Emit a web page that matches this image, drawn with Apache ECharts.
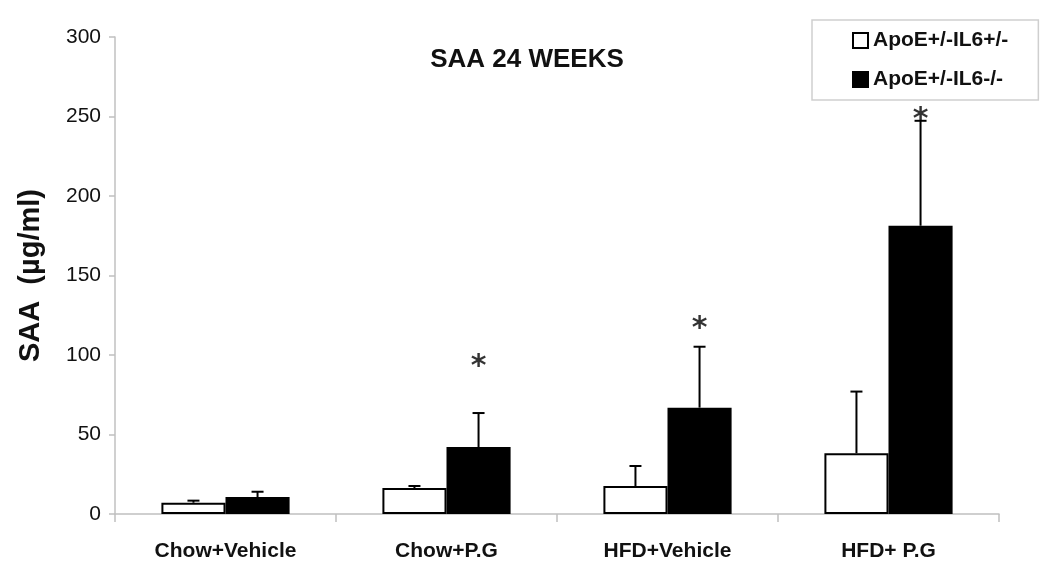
<!DOCTYPE html>
<html><head><meta charset="utf-8">
<script src="https://cdn.jsdelivr.net/npm/echarts@6/dist/echarts.min.js"></script>
<style>html,body{margin:0;padding:0;background:#fff;}#c{width:1050px;height:576px;}</style>
</head><body><div id="c"></div>
<script>
var categories = ['Chow+Vehicle', 'Chow+P.G', 'HFD+Vehicle', 'HFD+ P.G'];
var seriesNames = ['ApoE+/-IL6+/-', 'ApoE+/-IL6-/-'];
var hetValues = [7.1, 16.3, 17.6, 38.2];
var hetErrors = [1.3, 1.3, 12.6, 38.8];
var koValues = [10.7, 42.1, 66.9, 181.3];
var koErrors = [3.3, 21.4, 38.3, 66.0];
var starCategories = [1, 2, 3];
var starValues = [96.9, 120.8, 252];
var yTicks = {min: 0, max: 300, interval: 50};

var chart = echarts.init(document.getElementById('c'));
var BAR_FRAC = 0.29;
function errSeries(vals, errs, side) {
  return {
    type: 'custom',
    silent: true,
    z: 5,
    data: vals.map(function (v, i) { return [i, v, errs[i]]; }),
    encode: {x: 0, y: 1},
    renderItem: function (params, api) {
      var x = api.value(0), v = api.value(1), e = api.value(2);
      var bw = api.size([1, 0])[0];
      var off = side * bw * BAR_FRAC / 2;
      var b = api.coord([x, v]);
      var t = api.coord([x, v + e]);
      var cx = b[0] + off;
      var style = {stroke: '#000', lineWidth: 2};
      return {type: 'group', children: [
        {type: 'line', shape: {x1: cx, y1: b[1], x2: cx, y2: t[1]}, style: style},
        {type: 'line', shape: {x1: cx - 6, y1: t[1], x2: cx + 6, y2: t[1]}, style: style}
      ]};
    }
  };
}
var option = {
  animation: false,
  backgroundColor: '#fff',
  title: {
    text: 'SAA 24 WEEKS', left: 522, top: 42, textAlign: 'center',
    textStyle: {fontFamily: 'Liberation Sans', fontWeight: 'bold', fontSize: 26, color: '#111'}
  },
  legend: {
    orient: 'vertical', left: 812, top: 20,
    padding: [10, 30, 10, 40],
    itemGap: 18, itemWidth: 15, itemHeight: 15, icon: 'rect',
    borderColor: '#cfcfcf', borderWidth: 1.5, backgroundColor: '#fff',
    textStyle: {fontFamily: 'Liberation Sans', fontWeight: 'bold', fontSize: 21, color: '#111'},
    data: seriesNames
  },
  grid: {left: 115, right: 51, top: 37, bottom: 62, containLabel: false, outerBoundsMode: 'none'},
  xAxis: {
    type: 'category', data: categories,
    axisLine: {lineStyle: {color: '#c0c0c0', width: 1.5}},
    axisTick: {show: true, length: 8, lineStyle: {color: '#c0c0c0', width: 1.5}},
    axisLabel: {fontFamily: 'Liberation Sans', fontWeight: 'bold', fontSize: 21, color: '#111', margin: 27}
  },
  yAxis: {
    type: 'value', min: yTicks.min, max: yTicks.max, interval: yTicks.interval,
    name: 'SAA  (µg/ml)', nameLocation: 'middle', nameGap: 70, nameRotate: 90,
    nameTextStyle: {fontFamily: 'Liberation Sans', fontWeight: 'bold', fontSize: 29, color: '#111'},
    axisLine: {show: true, lineStyle: {color: '#c0c0c0', width: 1.5}},
    axisTick: {show: true, length: 6, lineStyle: {color: '#c0c0c0', width: 1.5}},
    splitLine: {show: false},
    axisLabel: {fontFamily: 'Liberation Sans', fontSize: 21, color: '#111', margin: 14}
  },
  series: [
    {name: seriesNames[0], type: 'bar', data: hetValues, barWidth: (BAR_FRAC * 100) + '%', barGap: '0%',
     itemStyle: {color: '#fff', borderColor: '#000', borderWidth: 2}},
    {name: seriesNames[1], type: 'bar', data: koValues, barWidth: (BAR_FRAC * 100) + '%', barGap: '0%',
     itemStyle: {color: '#000', borderColor: '#000', borderWidth: 2}},
    errSeries(hetValues, hetErrors, -1),
    errSeries(koValues, koErrors, 1),
    {type: 'scatter', silent: true, symbolSize: 1, itemStyle: {color: 'rgba(0,0,0,0)'},
     data: starCategories.map(function (c, i) { return [c, starValues[i]]; }),
     label: {show: true, position: 'inside', formatter: '*', offset: [32, 7], fontFamily: 'DejaVu Sans', fontWeight: 'bold', fontSize: 30, color: '#000'}}
  ]
};
chart.setOption(option);
</script></body></html>
